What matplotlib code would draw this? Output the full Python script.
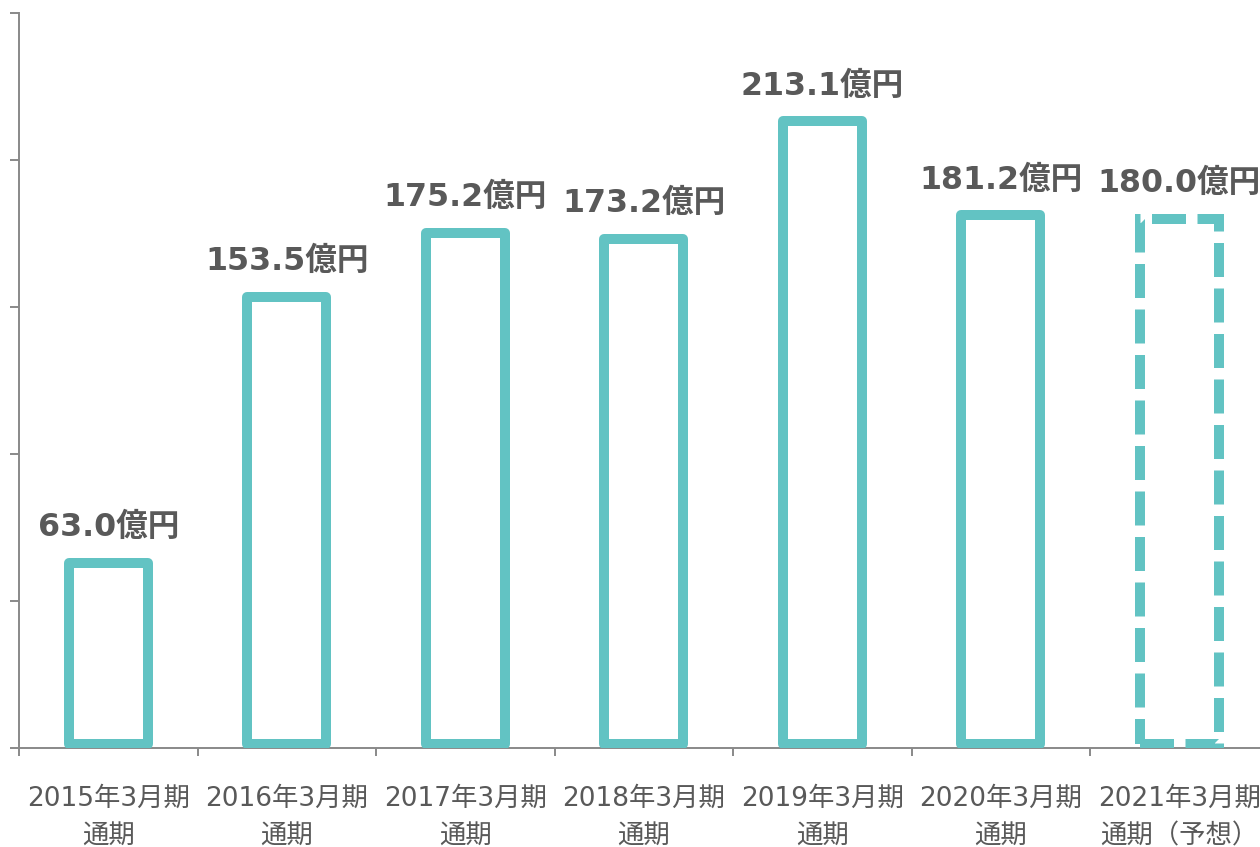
import matplotlib
matplotlib.use("Agg")
import matplotlib.pyplot as plt
from matplotlib.patches import Rectangle

categories = ["2015年3月期\n通期", "2016年3月期\n通期", "2017年3月期\n通期",
              "2018年3月期\n通期", "2019年3月期\n通期", "2020年3月期\n通期",
              "2021年3月期\n通期（予想）"]
values = [63.0, 153.5, 175.2, 173.2, 213.1, 181.2, 180.0]
labels = ["63.0億円", "153.5億円", "175.2億円", "173.2億円", "213.1億円", "181.2億円", "180.0億円"]
forecast = [False, False, False, False, False, False, True]

TEAL = "#62C3C3"
GRAY_TXT = "#595959"
AXIS = "#898989"

fig = plt.figure(figsize=(12.6, 8.47), dpi=100)
ax = fig.add_axes([19/1260, 99/847, (1268.5-19)/1260, (834-99)/847])
ax.set_xlim(-0.5, len(categories) - 0.5)
ax.set_ylim(0, 250)

width = 0.44
for i, (v, f) in enumerate(zip(values, forecast)):
    r = Rectangle((i - width/2, 1.5), width, v - 1.5, facecolor="white",
                  edgecolor=TEAL, linewidth=7.2,
                  linestyle=(0, (3.4, 1.15)) if f else "solid",
                  joinstyle="round" if not f else "miter", capstyle="butt", zorder=3)
    ax.add_patch(r)
    ax.annotate(labels[i], xy=(i, v), xytext=(0, 14), textcoords="offset points",
                ha="center", va="bottom", fontsize=22.8, fontweight="bold",
                color=GRAY_TXT, family=["DejaVu Sans", "Noto Sans CJK JP"])

for s in ["top", "right"]:
    ax.spines[s].set_visible(False)
for s in ["left", "bottom"]:
    ax.spines[s].set_color(AXIS)
    ax.spines[s].set_linewidth(1.4)

ax.set_yticks([0, 50, 100, 150, 200, 250])
ax.set_yticklabels([])
ax.tick_params(axis="y", length=6.5, width=1.4, color=AXIS, direction="out")

ax.set_xticks(range(len(categories)))
ax.set_xticklabels(categories, family=["DejaVu Sans", "Noto Sans CJK JP"],
                   fontsize=19, color=GRAY_TXT, linespacing=1.6)
ax.tick_params(axis="x", which="major", length=0, pad=27)
ax.set_xticks([i - 0.5 for i in range(len(categories) + 1)], minor=True)
ax.tick_params(axis="x", which="minor", length=6, width=1.4, color=AXIS, direction="out")

fig.savefig("out.png", dpi=100)
